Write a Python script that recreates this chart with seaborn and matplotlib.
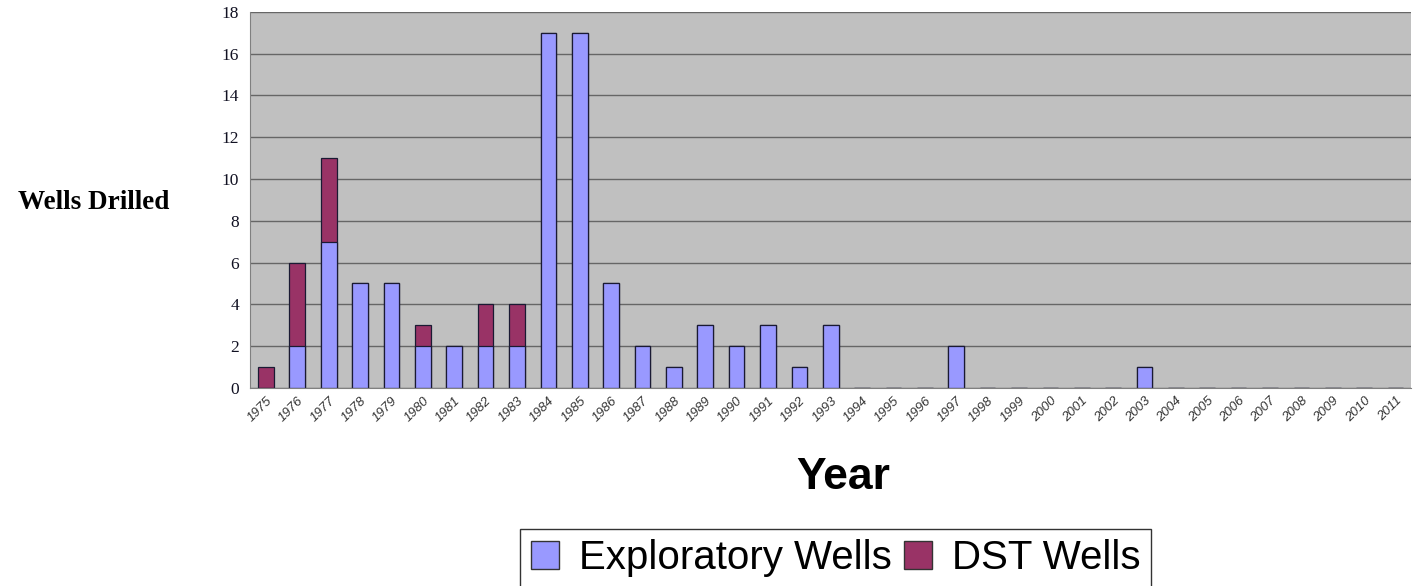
import numpy as np
import pandas as pd
import matplotlib
matplotlib.use("Agg")
import matplotlib.pyplot as plt
import seaborn as sns
from matplotlib.patches import Patch

years = [str(y) for y in range(1975, 2012)]
exploratory = [0, 2, 7, 5, 5, 2, 2, 2, 2, 17, 17, 5, 2, 1, 3, 2, 3, 1, 3,
               0, 0, 0, 2, 0, 0, 0, 0, 0, 1, 0, 0, 0, 0, 0, 0, 0, 0]
dst = [1, 4, 4, 0, 0, 1, 0, 2, 2, 0, 0, 0, 0, 0, 0, 0, 0, 0, 0,
       0, 0, 0, 0, 0, 0, 0, 0, 0, 0, 0, 0, 0, 0, 0, 0, 0, 0]

df = pd.DataFrame({"Year": years, "Exploratory": exploratory, "DST": dst})
df["Total"] = df["Exploratory"] + df["DST"]

expl_color = "#9999FF"
dst_color = "#993366"

sns.set_style("whitegrid")
fig = plt.figure(figsize=(14.14, 5.86), dpi=100)
ax = fig.add_axes([0.177, 0.338, 0.821, 0.642])

# stacked bars: total first (DST colour), exploratory drawn over it
sns.barplot(data=df, x="Year", y="Total", color=dst_color, width=0.5,
            edgecolor="#1a1a33", linewidth=0.9, saturation=1, ax=ax)
sns.barplot(data=df, x="Year", y="Exploratory", color=expl_color, width=0.5,
            edgecolor="#1a1a33", linewidth=0.9, saturation=1, ax=ax)

ax.set_facecolor("#C0C0C0")
ax.set_ylim(0, 18)
ax.set_yticks(range(0, 19, 2))
ax.grid(axis="y", color="#666666", linewidth=1)
ax.grid(axis="x", visible=False)
ax.set_axisbelow(True)
for s in ["top", "right"]:
    ax.spines[s].set_visible(False)
ax.spines["left"].set_color("#808080")
ax.spines["bottom"].set_color("#808080")

ax.tick_params(axis="y", length=5, color="#333333", labelsize=12.5, pad=3)
for lbl in ax.get_yticklabels():
    lbl.set_family("Liberation Serif")
    lbl.set_color("#111122")
ax.tick_params(axis="x", length=0, labelsize=9.5, pad=5)
for lbl in ax.get_xticklabels():
    lbl.set_rotation(45)
    lbl.set_ha("right")
    lbl.set_rotation_mode("anchor")
    lbl.set_family("Liberation Sans")
    lbl.set_style("italic")
    lbl.set_color("#333333")

ax.set_xlabel("")
ax.set_ylabel("")

fig.text(0.066, 0.654, "Wells Drilled", ha="center", va="center",
         fontsize=19.5, fontweight="bold", family="Liberation Serif",
         color="black")
fig.text(0.596, 0.186, "Year", ha="center", va="center",
         fontsize=32, fontweight="bold", family="Liberation Sans",
         color="black")

handles = [Patch(facecolor=expl_color, edgecolor="#333333", label="Exploratory Wells"),
           Patch(facecolor=dst_color, edgecolor="#333333", label="DST Wells")]
leg = fig.legend(handles=handles, loc="center", bbox_to_anchor=(0.591, 0.047),
                 ncol=2, frameon=True, fancybox=False, edgecolor="black",
                 prop={"family": "Liberation Sans", "size": 29},
                 handlelength=0.7, handleheight=0.7, handletextpad=0.5,
                 columnspacing=0.3, borderpad=0.25, labelcolor="black")
leg.get_frame().set_linewidth(1)

fig.savefig("out.png", dpi=100, facecolor="white")
